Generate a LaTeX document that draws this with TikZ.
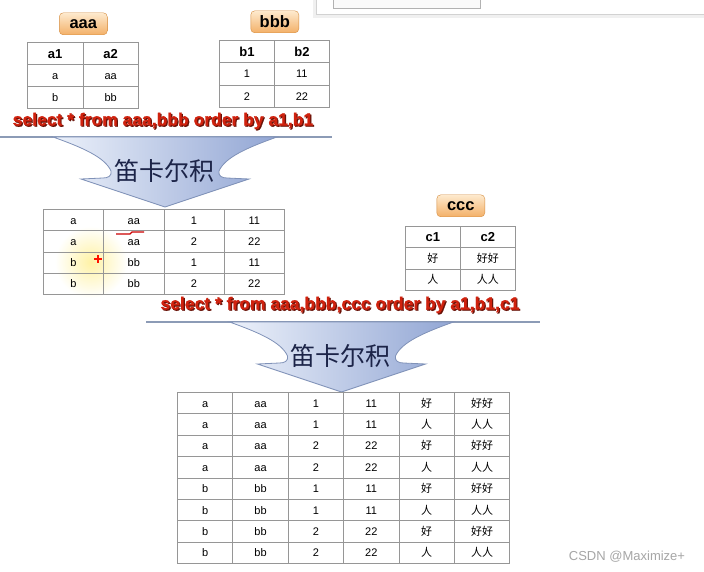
\documentclass[tikz,border=0pt]{standalone}
\usepackage{fontspec}
\setsansfont{Liberation Sans}
\newfontfamily\cjk{Noto Sans CJK SC}
\newfontfamily\sqlfont{Liberation Sans Bold}[FakeBold=1.2]
\usepackage{tikz}
\usetikzlibrary{positioning}
\definecolor{tabline}{RGB}{150,150,150}
\definecolor{sqlred}{RGB}{208,34,14}
\definecolor{sqlshadow}{RGB}{105,18,8}
\definecolor{arrowleft}{RGB}{236,241,250}
\definecolor{arrowright}{RGB}{146,166,212}
\definecolor{arrowline}{RGB}{128,146,184}
\definecolor{titleblue}{RGB}{28,36,72}
\definecolor{tagtop}{RGB}{254,234,206}
\definecolor{tagbottom}{RGB}{243,176,104}
\definecolor{tagline}{RGB}{214,142,66}
\definecolor{sepline}{RGB}{140,155,182}
\definecolor{glow}{RGB}{255,242,165}

\tikzset{
  cell/.style 2 args={rectangle, draw=tabline, line width=0.8pt, inner sep=0pt, anchor=north west, minimum width=#1, minimum height=#2, text height=8pt, text depth=0pt, font=\sffamily\fontsize{11}{13}\selectfont},
  headcell/.style 2 args={cell={#1}{#2}, text height=9.4pt, font=\sffamily\bfseries\fontsize{13}{15}\selectfont},
  tag/.style={rectangle, rounded corners=4pt, draw=tagline, top color=tagtop, bottom color=tagbottom, minimum width=48pt, minimum height=22pt, inner sep=0pt, font=\sffamily\bfseries\fontsize{16.5}{18}\selectfont},
  sql/.style={inner sep=0pt, text=sqlred, font=\sqlfont\fontsize{17.5}{20}\selectfont},
  sqlshade/.style={sql, text=sqlshadow},
  cartesian/.style={draw=arrowline, line width=0.8pt, left color=arrowleft, right color=arrowright},
  product/.style={inner sep=0pt, text=titleblue, font=\cjk\fontsize{25}{28}\selectfont},
  divider/.style={draw=sepline, line width=1.5pt}
}

\begin{document}
\begin{tikzpicture}[x=1pt, y=-1pt]

\newcommand\cartarrow[2]{% #1 centre x, #2 top y
\path[cartesian] (#1-112,#2) -- (#1+112,#2)
    .. controls (#1+84,#2+10) and (#1+60,#2+20) .. (#1+54,#2+34)
    .. controls (#1+53,#2+39) and (#1+57,#2+41) .. (#1+62,#2+41)
    -- (#1+84,#2+42) -- (#1,#2+70) -- (#1-84,#2+42) -- (#1-62,#2+41)
    .. controls (#1-57,#2+41) and (#1-53,#2+39) .. (#1-54,#2+34)
    .. controls (#1-60,#2+20) and (#1-84,#2+10) .. (#1-112,#2) -- cycle;}

%\draw[step=10, gray, very thin, dotted] (0,0) grid (704,572);
\fill[white] (0,0) rectangle (704,572);
\useasboundingbox (0,0) rectangle (704,572);

% window edge, top right
\fill[gray!12] (313,-4) rectangle (720,18);
\draw[gray!35, fill=white] (316,-4) rectangle (720,14);
\draw[gray!60, fill=gray!4] (333,-4) rectangle (480,8);

% cursor glow
\path[inner color=glow, outer color=white] (91,262) circle (36);

% table aaa
\node at (27,42) [headcell={55.5pt}{22pt}] (aaa-0-0) {a1};
\node at (82.5,42) [headcell={55.5pt}{22pt}] (aaa-0-1) {a2};
\foreach \r/\p/\q in {1/a/aa,2/b/bb}{
  \node at (27,42+\r*22) [cell={55.5pt}{22pt}] (aaa-\r-0) {\p};
  \node at (82.5,42+\r*22) [cell={55.5pt}{22pt}] (aaa-\r-1) {\q};
}
\node [tag, above=7pt of aaa-0-0.north east] (aaa) {aaa};

% table bbb
\node at (219,40) [headcell={55pt}{22.3pt}] (bbb-0-0) {b1};
\node at (274,40) [headcell={55pt}{22.3pt}] (bbb-0-1) {b2};
\foreach \r/\p/\q in {1/1/11,2/2/22}{
  \node at (219,40+\r*22.3) [cell={55pt}{22.3pt}] (bbb-\r-0) {\p};
  \node at (274,40+\r*22.3) [cell={55pt}{22.3pt}] (bbb-\r-1) {\q};
}
\node [tag, above=7pt of bbb-0-0.north east] (bbb) {bbb};

\node at (164.2,122.2) [sqlshade] (sql1s) {select * from aaa,bbb order by a1,b1};
\node at (163,121) [sql] (sql1) {select * from aaa,bbb order by a1,b1};

\draw[divider] (0,137) -- (332,137);
\cartarrow{165}{137}
\node at (164,171) [product] (prod1) {笛卡尔积};

% aaa x bbb
\foreach \r/\row in {0/{a,aa,1,11},1/{a,aa,2,22},2/{b,bb,1,11},3/{b,bb,2,22}}
  \foreach \v [count=\c from 0] in \row
    \node at (43+\c*60.25,209+\r*21.25) [cell={60.25pt}{21.25pt}] (ab-\r-\c) {\v};

\draw[red!85!orange, line width=1.3pt] (94,259) -- (102,259) (98,255) -- (98,263);
\draw[red!80!black, line width=1.2pt] (116,234) -- (130,234) -- (132,232) -- (144,232);

% table ccc
\node at (405,226) [headcell={55pt}{21.3pt}] (ccc-0-0) {c1};
\node at (460,226) [headcell={55pt}{21.3pt}] (ccc-0-1) {c2};
\foreach \r/\p/\q in {1/好/好好,2/人/人人}{
  \node at (405,226+\r*21.3) [cell={55pt}{21.3pt}, font=\cjk\fontsize{11}{13}\selectfont] (ccc-\r-0) {\p};
  \node at (460,226+\r*21.3) [cell={55pt}{21.3pt}, font=\cjk\fontsize{11}{13}\selectfont] (ccc-\r-1) {\q};
}
\node [tag, above=9pt of ccc-0-0.north east] (ccc) {ccc};

\node at (341.2,306.2) [sqlshade] (sql2s) {select * from aaa,bbb,ccc order by a1,b1,c1};
\node at (340,305) [sql] (sql2) {select * from aaa,bbb,ccc order by a1,b1,c1};

\draw[divider] (146,322) -- (540,322);
\cartarrow{341.5}{322}
\node at (340,356) [product] (prod2) {笛卡尔积};

% aaa x bbb x ccc
\foreach \r/\row in {0/{a,aa,1,11,{\cjk 好},{\cjk 好好}},1/{a,aa,1,11,{\cjk 人},{\cjk 人人}},
                     2/{a,aa,2,22,{\cjk 好},{\cjk 好好}},3/{a,aa,2,22,{\cjk 人},{\cjk 人人}},
                     4/{b,bb,1,11,{\cjk 好},{\cjk 好好}},5/{b,bb,1,11,{\cjk 人},{\cjk 人人}},
                     6/{b,bb,2,22,{\cjk 好},{\cjk 好好}},7/{b,bb,2,22,{\cjk 人},{\cjk 人人}}}
  \foreach \v [count=\c from 0] in \row
    \node at (177+\c*55.4,392+\r*21.4) [cell={55.4pt}{21.4pt}] (abc-\r-\c) {\v};

\node at (627,557) [text=gray!70, font=\sffamily\fontsize{13}{15}\selectfont] (mark) {CSDN @Maximize+};

\end{tikzpicture}
\end{document}
